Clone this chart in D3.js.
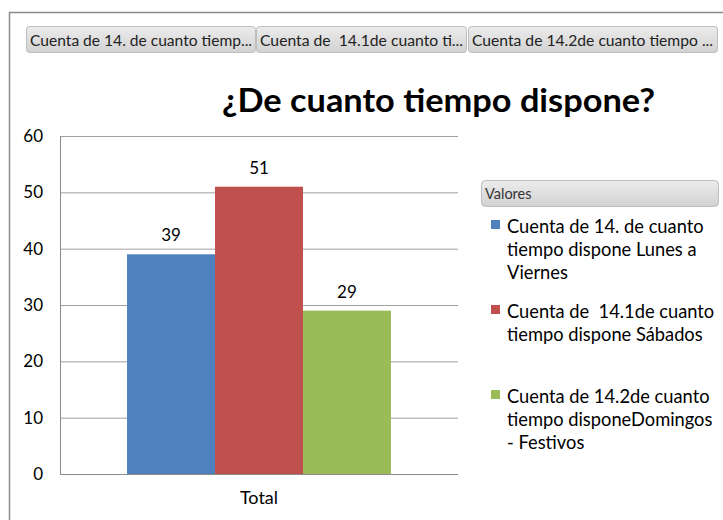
<!DOCTYPE html>
<html>
<head>
<meta charset="utf-8">
<script src="https://cdn.jsdelivr.net/npm/d3@7"></script>
<style>
  html, body { margin: 0; padding: 0; background: #fff; }
  svg { display: block; }
  text { white-space: pre; }
</style>
</head>
<body>
<svg id="chart" width="723" height="520"></svg>
<script>
// ---- data ----
const categories = ["Total"];
const seriesNames = [
  "Cuenta de 14. de cuanto tiempo dispone Lunes a Viernes",
  "Cuenta de  14.1de cuanto tiempo dispone Sábados",
  "Cuenta de 14.2de cuanto tiempo disponeDomingos - Festivos"
];
const seriesValues = [39, 51, 29];
const seriesColors = ["#4F81BD", "#C0504D", "#9BBB59"];
const tabLabels = [
  "Cuenta de 14. de cuanto tiemp...",
  "Cuenta de  14.1de cuanto ti...",
  "Cuenta de 14.2de cuanto tiempo ..."
];
const legendLines = [
  ["Cuenta de 14. de cuanto", "tiempo dispone Lunes a", "Viernes"],
  ["Cuenta de  14.1de cuanto", "tiempo dispone Sábados"],
  ["Cuenta de 14.2de cuanto", "tiempo disponeDomingos", "- Festivos"]
];
const yTicks = [0, 10, 20, 30, 40, 50, 60];
const titleText = "¿De cuanto tiempo dispone?";
const legendTitle = "Valores";

const FONT = "Lato, 'Open Sans', sans-serif";
const svg = d3.select("#chart");

// defs: gradients
const defs = svg.append("defs");
const g1 = defs.append("linearGradient").attr("id", "tabGrad").attr("x1", 0).attr("y1", 0).attr("x2", 0).attr("y2", 1);
g1.append("stop").attr("offset", "0%").attr("stop-color", "#ececec");
g1.append("stop").attr("offset", "100%").attr("stop-color", "#d2d2d2");

// outer border (top + left)
svg.append("path")
  .attr("d", "M9.5,520 L9.5,12.5 L723,12.5")
  .attr("fill", "none").attr("stroke", "#8a8a8a").attr("stroke-width", 1.5);

// tabs
const tabX = [26, 256, 468];
const tabW = [229, 210, 249];
const tabTextW = [222, 203, 241];
tabLabels.forEach((t, i) => {
  svg.append("rect")
    .attr("x", tabX[i] + 0.5).attr("y", 26.5)
    .attr("width", tabW[i]).attr("height", 26)
    .attr("rx", 3).attr("ry", 3)
    .attr("fill", "url(#tabGrad)").attr("stroke", "#bdbdbd");
  svg.append("text")
    .attr("x", tabX[i] + 4).attr("y", 45.5)
    .attr("font-family", FONT)
    .attr("font-size", 14.5).attr("fill", "#222")
    .attr("textLength", tabTextW[i]).attr("lengthAdjust", "spacingAndGlyphs")
    .text(t);
});

// title
svg.append("text")
  .attr("x", 222).attr("y", 112)
  .attr("font-family", FONT).attr("font-weight", "bold")
  .attr("font-size", 32.5).attr("fill", "#000")
  .attr("textLength", 433).attr("lengthAdjust", "spacingAndGlyphs")
  .text(titleText);

// scales
const plot = { left: 60, right: 458, top: 136, bottom: 474 };
const y = d3.scaleLinear().domain([0, 60]).range([plot.bottom, plot.top]);
const x0 = d3.scaleBand().domain(categories).range([plot.left, plot.right])
  .paddingInner(0).paddingOuter(0.254);
const x1 = d3.scaleBand().domain(seriesNames).range([0, x0.bandwidth()]).padding(0);

// gridlines + y axis
const yAxis = d3.axisLeft(y).tickValues(yTicks)
  .tickSize(-(plot.right - plot.left)).tickPadding(17)
  .tickFormat(d3.format("d"));
const ga = svg.append("g").attr("transform", `translate(${plot.left},0)`).call(yAxis);
ga.select(".domain").remove();
ga.selectAll(".tick line").attr("stroke", "#a0a0a0").attr("stroke-width", 1);
ga.selectAll(".tick text").attr("font-family", FONT).attr("font-size", 17).attr("fill", "#000");

// left axis line and bottom axis line
svg.append("line").attr("x1", plot.left + 0.5).attr("x2", plot.left + 0.5)
  .attr("y1", plot.top).attr("y2", plot.bottom).attr("stroke", "#8a8a8a");
svg.append("line").attr("x1", plot.left).attr("x2", plot.right)
  .attr("y1", plot.bottom + 0.5).attr("y2", plot.bottom + 0.5).attr("stroke", "#8a8a8a");

// bars
const cat = svg.append("g").selectAll("g").data(categories).join("g")
  .attr("transform", d => `translate(${x0(d)},0)`);
cat.selectAll("rect").data(seriesNames.map((s, i) => ({ s, v: seriesValues[i], c: seriesColors[i] })))
  .join("rect")
  .attr("x", d => x1(d.s)).attr("width", x1.bandwidth())
  .attr("y", d => y(d.v)).attr("height", d => y(0) - y(d.v))
  .attr("fill", d => d.c);
cat.selectAll("text.lbl").data(seriesNames.map((s, i) => ({ s, v: seriesValues[i] })))
  .join("text").attr("class", "lbl")
  .attr("x", d => x1(d.s) + x1.bandwidth() / 2)
  .attr("y", d => y(d.v) - 13)
  .attr("text-anchor", "middle")
  .attr("font-family", FONT).attr("font-size", 17).attr("fill", "#000")
  .text(d => d.v);

// x axis label
const xAxis = d3.axisBottom(x0).tickSize(0).tickPadding(17);
const gx = svg.append("g").attr("transform", `translate(0,${plot.bottom})`).call(xAxis);
gx.select(".domain").remove();
gx.selectAll(".tick text").attr("font-family", FONT).attr("font-size", 18).attr("fill", "#000");

// legend
svg.append("rect")
  .attr("x", 481.5).attr("y", 180.5).attr("width", 237).attr("height", 26)
  .attr("rx", 4).attr("ry", 4)
  .attr("fill", "url(#tabGrad)").attr("stroke", "#bdbdbd");
svg.append("text")
  .attr("x", 485).attr("y", 199)
  .attr("font-family", FONT).attr("font-size", 14.5).attr("fill", "#333")
  .text(legendTitle);

const legendFirstBaseline = [233, 318, 403];
legendLines.forEach((lines, i) => {
  svg.append("rect")
    .attr("x", 491).attr("y", legendFirstBaseline[i] - 13)
    .attr("width", 9).attr("height", 9)
    .attr("fill", seriesColors[i]);
  lines.forEach((ln, j) => {
    svg.append("text")
      .attr("x", 507).attr("y", legendFirstBaseline[i] + j * 23)
      .attr("font-family", FONT).attr("font-size", 18.3).attr("fill", "#000")
      .text(ln);
  });
});
</script>
</body>
</html>
